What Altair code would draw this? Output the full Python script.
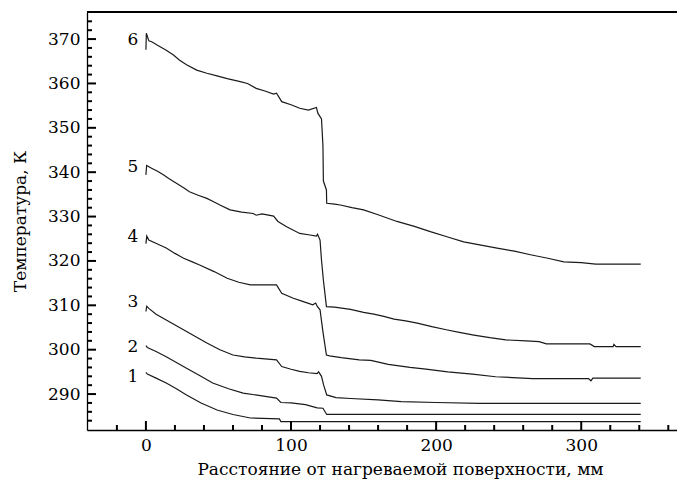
import altair as alt
import pandas as pd

# ---- data (distance, mm / temperature, K) ----
x1 = [0, 1, 7, 14, 21, 28, 38, 49, 60, 72, 92, 93, 341]
T1 = [294.9, 294.5, 293.6, 292.5, 291.2, 289.8, 288.0, 286.4, 285.4, 284.6, 284.4, 283.8, 283.8]

x2 = [0, 1, 7, 14, 21, 28, 37, 46, 57, 67, 80, 90, 93, 100, 110, 118, 122, 124.6, 341]
T2 = [300.9, 300.5, 299.6, 298.4, 297.1, 295.8, 294.2, 292.5, 291.2, 290.2, 289.6, 289.1, 288.1,
      288.0, 287.6, 286.9, 286.8, 285.4, 285.4]

x3 = [0, 0.6, 2, 7, 14, 21, 28, 35, 42, 51, 60, 68, 76, 90, 93.6, 100, 106, 112, 118, 119,
      121, 122.5, 124.6, 131, 141, 160, 176, 200, 230, 341]
T3 = [308.6, 309.8, 309.3, 308.0, 306.7, 305.4, 304.1, 302.8, 301.5, 300.0, 298.8, 298.4, 298.1,
      297.7, 296.2, 295.6, 295.1, 294.8, 294.6, 295.0, 294.0, 292.0, 289.8, 289.2, 289.0, 288.7,
      288.3, 288.1, 287.9, 287.9]

x4 = [0, 0.6, 2, 8, 14, 20, 26, 32, 37, 47, 56, 64, 72, 90, 93.6, 101.6, 108, 115, 117, 118,
      120, 122, 124.4, 126.6, 134.6, 147, 155, 167, 182, 193, 208, 225, 241, 266.5, 305, 306.7,
      308, 341]
T4 = [323.9, 325.6, 324.7, 323.8, 322.9, 321.7, 320.6, 319.8, 319.1, 317.6, 316.1, 315.2, 314.6,
      314.6, 312.7, 311.6, 310.9, 310.1, 310.5, 309.8, 309.0, 304.0, 298.8, 298.6, 298.2, 297.7,
      297.6, 296.7, 296.0, 295.6, 295.0, 294.5, 293.9, 293.5, 293.5, 293.0, 293.6, 293.6]

x5 = [0, 0.5, 3.9, 8, 12, 16, 21, 26, 30, 36, 42, 47, 51, 58, 66, 74, 76, 80, 88, 91, 97, 106,
      112, 117.5, 118.3, 120, 121, 122.3, 124.4, 130, 141, 150, 157, 164, 171, 179, 187, 197, 207,
      216, 226, 237, 248, 262, 271, 276, 306, 309, 322, 322.5, 324, 341]
T5 = [339.4, 341.5, 340.9, 340.2, 339.4, 338.5, 337.5, 336.5, 335.6, 334.8, 334.1, 333.3, 332.6,
      331.5, 331.0, 330.7, 330.3, 330.6, 330.1, 328.9, 327.7, 326.2, 325.9, 325.6, 326.0, 324.7,
      320.2, 315.7, 309.7, 309.6, 309.1, 308.4, 308.0, 307.5, 306.9, 306.5, 306.0, 305.2, 304.5,
      303.9, 303.3, 302.7, 302.2, 302.0, 301.8, 301.3, 301.3, 300.7, 300.7, 301.2, 300.7, 300.7]

x6 = [0, 0.3, 2, 4, 8, 14, 19, 23, 28, 35, 42, 49, 56, 65, 70, 76, 82, 88, 90, 93.6, 100, 106,
      112, 117.5, 118.5, 121, 122, 122.3, 124.4, 124.6, 130, 134, 142, 150, 160, 173, 185, 196,
      208, 219, 230, 242, 254, 265, 277, 288, 300, 310, 325, 341]
T6 = [367.6, 371.3, 369.6, 369.4, 368.6, 367.5, 366.4, 365.3, 364.2, 363.0, 362.3, 361.7, 361.1,
      360.4, 360.0, 358.9, 358.3, 357.6, 357.8, 355.9, 355.2, 354.4, 354.0, 354.6, 353.3, 352.0,
      346.0, 338.0, 336.0, 333.0, 332.8, 332.6, 332.0, 331.5, 330.4, 328.9, 327.8, 326.6, 325.4,
      324.3, 323.6, 322.9, 322.2, 321.4, 320.6, 319.8, 319.6, 319.3, 319.3, 319.3]

curve_names = ["1", "2", "3", "4", "5", "6"]
label_x = [0, 0, 0, 0, 0, 0]
label_T = [293.8, 300.6, 310.7, 325.4, 341.2, 369.8]

x_major = [0, 100, 200, 300]
x_minor = [-20, 20, 40, 60, 80, 120, 140, 160, 180, 220, 240, 260, 280, 320, 340, 360]
y_major = [290, 300, 310, 320, 330, 340, 350, 360, 370]
y_minor = [284, 286, 288, 292, 294, 296, 298, 302, 304, 306, 308, 312, 314, 316, 318, 322, 324,
           326, 328, 332, 334, 336, 338, 342, 344, 346, 348, 352, 354, 356, 358, 362, 364, 366,
           368, 372, 374]

x_title = "Расстояние от нагреваемой поверхности, мм"
y_title = "Температура, К"

# ---- tables ----
rows = []
for name, xs_, ts_ in zip(curve_names, [x1, x2, x3, x4, x5, x6], [T1, T2, T3, T4, T5, T6]):
    for i, (a, b) in enumerate(zip(xs_, ts_)):
        rows.append({"curve": name, "x": a, "T": b, "i": i})
df = pd.DataFrame(rows)
df_lab = pd.DataFrame({"curve": curve_names, "x": label_x, "T": label_T})

W, H = 590, 418
FONT = "DejaVu Serif"
FS = 17
XD = [-40.6, 366]
YD = [281.9, 376.1]
px_x = W / (XD[1] - XD[0])   # pixels per mm
px_y = H / (YD[1] - YD[0])   # pixels per K

xs = alt.Scale(domain=XD, nice=False, zero=False)
ys = alt.Scale(domain=YD, nice=False, zero=False)

x_axis = alt.Axis(values=x_major, ticks=False, grid=False, labelPadding=7, domainColor="black",
                  domainWidth=1.3, labelFont=FONT, labelFontSize=FS, labelColor="black",
                  titleFont=FONT, titleFontSize=FS, titleFontWeight="normal", titleColor="black",
                  titlePadding=8, titleX=313)
y_axis = alt.Axis(values=y_major, ticks=False, grid=False, labelPadding=7, domainColor="black",
                  domainWidth=1.3, labelFont=FONT, labelFontSize=FS, labelColor="black",
                  titleFont=FONT, titleFontSize=FS, titleFontWeight="normal", titleColor="black",
                  titlePadding=18)

lines = alt.Chart(df).mark_line(color="#1a1a1a", strokeWidth=1.2).encode(
    x=alt.X("x:Q", scale=xs, axis=x_axis, title=x_title),
    y=alt.Y("T:Q", scale=ys, axis=y_axis, title=y_title),
    detail="curve:N", order="i:Q",
)

labels = alt.Chart(df_lab).mark_text(font=FONT, fontSize=FS, color="black", dx=-13, align="center",
                                      baseline="middle").encode(
    x=alt.X("x:Q", scale=xs, axis=None),
    y=alt.Y("T:Q", scale=ys, axis=None),
    text="curve:N",
)

# inward tick marks (built from the tick value lists), drawn as separate rule layers
def tick_layer(rows_):
    return alt.Chart(pd.DataFrame(rows_)).mark_rule(color="#000000", strokeWidth=2, opacity=1).encode(
        x=alt.X("a:Q", scale=xs, axis=None), x2="a2:Q",
        y=alt.Y("b:Q", scale=ys, axis=None), y2="b2:Q",
    )

xt_rows = [{"a": v, "a2": v, "b": YD[0], "b2": YD[0] + 9 / px_y} for v in x_major]
xt_rows += [{"a": v, "a2": v, "b": YD[0], "b2": YD[0] + 5 / px_y} for v in x_minor]
yt_rows = [{"a": XD[0], "a2": XD[0] + 9 / px_x, "b": v, "b2": v} for v in y_major]
yt_rows += [{"a": XD[0], "a2": XD[0] + 5 / px_x, "b": v, "b2": v} for v in y_minor]
top_rows = [{"a": XD[0], "a2": XD[1], "b": YD[1], "b2": YD[1]}]

chart = alt.layer(
    lines, labels, tick_layer(xt_rows), tick_layer(yt_rows), tick_layer(top_rows)
).resolve_axis(x="independent", y="independent").properties(
    width=W, height=H,
    autosize=alt.AutoSizeParams(type="none"),
    padding={"left": 79, "top": 4, "right": 0, "bottom": 55},
).configure_view(stroke=None).configure(background="white")

chart.save("out.html", embed_options={"renderer": "svg", "actions": False})
